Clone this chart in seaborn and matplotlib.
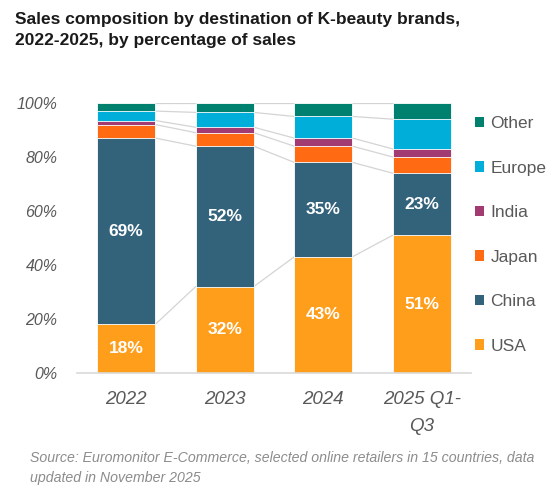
import pandas as pd
import seaborn as sns
import matplotlib.pyplot as plt
from matplotlib.patches import Patch

# Data ------------------------------------------------------------------------
years = ['2022', '2023', '2024', '2025 Q1-\nQ3']
usa = [18, 32, 43, 51]
china = [69, 52, 35, 23]
japan = [5, 5, 6, 6]
india = [1.5, 2, 3, 3]
europe = [3.5, 5.5, 8, 11]
other = [3, 3.5, 5, 6]

series = ['USA', 'China', 'Japan', 'India', 'Europe', 'Other']
values = [usa, china, japan, india, europe, other]
colors = ['#FF9E1B', '#33627B', '#FF6A13', '#A23B72', '#00AEDA', '#00806E']

# Preprocess: cumulative tops for the overlapping-bar stack -------------------
rows = []
cum = [0] * len(years)
for name, vals in zip(series, values):
    cum = [c + v for c, v in zip(cum, vals)]
    for yr, v, c in zip(years, vals, cum):
        rows.append({'Year': yr, 'Series': name, 'Value': v, 'Top': c})
df = pd.DataFrame(rows)

sns.set_style('white')
plt.rcParams['font.family'] = ['Liberation Sans', 'DejaVu Sans']

fig = plt.figure(figsize=(5.58, 4.95), dpi=100)
ax = fig.add_axes([0.138, 0.2465, 0.706, 0.5455])

BW = 0.59
# draw from the top segment down so each smaller bar covers the larger one
for name, col in reversed(list(zip(series, colors))):
    sub = df[df['Series'] == name]
    sns.barplot(data=sub, x='Year', y='Top', order=years, color=col,
                width=BW, saturation=1, edgecolor='white', linewidth=0.6,
                ax=ax, zorder=2)

# series lines between bars
for name in series:
    tops = df[df['Series'] == name]['Top'].tolist()
    for i in range(len(years) - 1):
        ax.plot([i + BW / 2, i + 1 - BW / 2], [tops[i], tops[i + 1]],
                color='#d4d4d4', lw=0.9, zorder=1)

# value labels on USA and China
for name in ['USA', 'China']:
    sub = df[df['Series'] == name].reset_index(drop=True)
    for i, r in sub.iterrows():
        ax.text(i, r['Top'] - r['Value'] / 2, f"{r['Value']:.0f}%",
                ha='center', va='center', color='white',
                fontsize=12.5, fontweight='bold', zorder=3)

# Axes ------------------------------------------------------------------------
ax.set_ylim(0, 100)
ax.set_xlim(-0.5, len(years) - 0.5)
ax.set_yticks(range(0, 101, 20))
ax.set_yticklabels([f'{t}%' for t in range(0, 101, 20)],
                   fontsize=11.5, style='italic', color='#595959')
ax.tick_params(axis='x', labelsize=13.5, colors='#595959', length=0, pad=13)
ax.tick_params(axis='y', length=0, pad=14)
for lab in ax.get_xticklabels():
    lab.set_style('italic')
    lab.set_linespacing(1.75)
ax.set_xlabel('')
ax.set_ylabel('')
for s in ['top', 'right', 'left']:
    ax.spines[s].set_visible(False)
ax.spines['bottom'].set_color('#d9d9d9')
ax.spines['bottom'].set_linewidth(1.2)

# Legend ----------------------------------------------------------------------
handles = [Patch(facecolor=c, edgecolor='none') for c in colors][::-1]
fig.legend(handles, series[::-1], loc='upper left',
           bbox_to_anchor=(0.823, 0.797), frameon=False,
           fontsize=12.5, labelcolor='#595959', handlelength=0.55,
           handleheight=0.55, handletextpad=0.35, labelspacing=1.7)

# Titles ----------------------------------------------------------------------
fig.text(0.027, 0.975, 'Sales composition by destination of K-beauty brands,\n'
         '2022-2025, by percentage of sales', fontsize=12.5,
         fontweight='bold', color='#1a1a1a', va='top', linespacing=1.45)
fig.text(0.054, 0.088, 'Source: Euromonitor E-Commerce, selected online '
         'retailers in 15 countries, data\nupdated in November 2025',
         fontsize=10.2, style='italic', color='#8c8c8c', va='top',
         linespacing=1.5)

fig.savefig('out.png', dpi=100)
